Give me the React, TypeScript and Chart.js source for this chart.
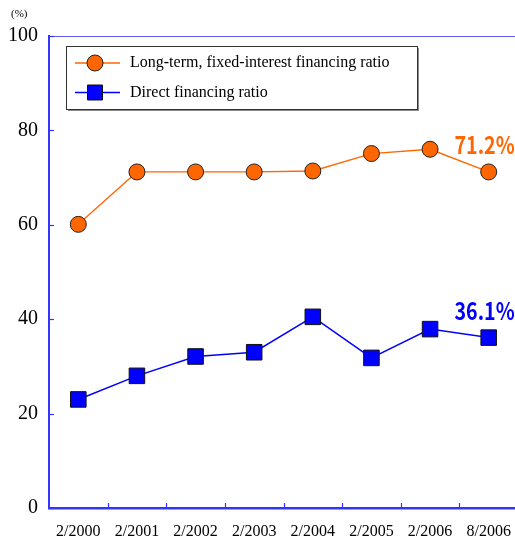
import React, { useEffect, useRef } from "react";
import { Chart, registerables } from "chart.js";

Chart.register(...registerables);

// Survey dates on the horizontal axis
const categories = ["2/2000", "2/2001", "2/2002", "2/2003", "2/2004", "2/2005", "2/2006", "8/2006"];
// Ratios in percent
const longTermFixedRatio = [60.1, 71.2, 71.2, 71.2, 71.4, 75.1, 76.0, 71.2];
const directFinancingRatio = [23.0, 28.0, 32.1, 33.0, 40.5, 31.8, 37.9, 36.1];
const yTickValues = [0, 20, 40, 60, 80, 100];
const seriesNames = ["Long-term, fixed-interest financing ratio", "Direct financing ratio"];
const unitLabel = "(%)";

const ORANGE = "#FF6600";
const BLUE = "#0000FF";
const AXIS_BLUE = "#3434FF";
const SERIF = "'Liberation Serif', 'Times New Roman', serif";
const GOTHIC = "'Noto Sans CJK JP', 'DejaVu Sans', sans-serif";

const decorations = {
  id: "decorations",
  afterDraw(chart: any) {
    const { ctx, chartArea, scales } = chart;
    const x = scales.x;
    const y = scales.y;
    ctx.save();

    // top frame line
    ctx.strokeStyle = "#5a5aff";
    ctx.lineWidth = 1;
    ctx.beginPath();
    ctx.moveTo(chartArea.left, chartArea.top + 0.5);
    ctx.lineTo(chartArea.right, chartArea.top + 0.5);
    ctx.stroke();

    // inner tick marks on the value axis
    ctx.strokeStyle = AXIS_BLUE;
    ctx.lineWidth = 1.2;
    yTickValues.forEach((v) => {
      const py = Math.round(y.getPixelForValue(v)) + 0.5;
      ctx.beginPath();
      ctx.moveTo(chartArea.left, py);
      ctx.lineTo(chartArea.left + 5, py);
      ctx.stroke();
    });

    // inner tick marks between categories
    for (let i = 1; i < categories.length; i++) {
      const px = Math.round((x.getPixelForValue(i - 1) + x.getPixelForValue(i)) / 2) + 0.5;
      ctx.beginPath();
      ctx.moveTo(px, chartArea.bottom);
      ctx.lineTo(px, chartArea.bottom - 5);
      ctx.stroke();
    }

    // unit label
    ctx.fillStyle = "#000";
    ctx.font = `11px ${SERIF}`;
    ctx.textAlign = "left";
    ctx.textBaseline = "middle";
    ctx.fillText(unitLabel, 11, 14);

    // legend box with drop shadow
    const lx = 66, ly = 46, lw = 351, lh = 63;
    ctx.fillStyle = "#8a8a8a";
    ctx.fillRect(lx + 2, ly + 2, lw, lh);
    ctx.fillStyle = "#fff";
    ctx.fillRect(lx, ly, lw, lh);
    ctx.strokeStyle = "#333";
    ctx.lineWidth = 1;
    ctx.strokeRect(lx + 0.5, ly + 0.5, lw, lh);

    chart.data.datasets.forEach((ds: any, i: number) => {
      const cy = ly + 17 + i * 29.5;
      const cx = 95;
      ctx.strokeStyle = ds.borderColor;
      ctx.lineWidth = 1.5;
      ctx.beginPath();
      ctx.moveTo(75, cy);
      ctx.lineTo(120, cy);
      ctx.stroke();
      ctx.fillStyle = ds.pointBackgroundColor;
      ctx.strokeStyle = ds.pointBorderColor;
      ctx.lineWidth = 1;
      ctx.beginPath();
      if (ds.pointStyle === "rect") {
        ctx.rect(cx - 7.5, cy - 7.5, 15, 15);
      } else {
        ctx.arc(cx, cy, 8, 0, Math.PI * 2);
      }
      ctx.fill();
      ctx.stroke();
      ctx.fillStyle = "#000";
      ctx.font = `16px ${SERIF}`;
      ctx.textAlign = "left";
      ctx.textBaseline = "middle";
      ctx.fillText(ds.label, 130, cy);
    });

    // value callouts on the latest point of each series
    chart.data.datasets.forEach((ds: any, i: number) => {
      const meta = chart.getDatasetMeta(i);
      const last = meta.data[meta.data.length - 1];
      const value = ds.data[ds.data.length - 1];
      ctx.save();
      ctx.translate(last.x + 26, last.y - 27);
      ctx.scale(0.82, 1);
      ctx.fillStyle = ds.borderColor === ORANGE ? ORANGE : BLUE;
      ctx.font = `bold 24px ${GOTHIC}`;
      ctx.textAlign = "right";
      ctx.textBaseline = "middle";
      ctx.fillText(`${value.toFixed(1)}%`, 0, 0);
      ctx.restore();
    });

    ctx.restore();
  },
};

export default function App() {
  const canvasRef = useRef<HTMLCanvasElement | null>(null);

  useEffect(() => {
    if (!canvasRef.current) return;
    const chart = new Chart(canvasRef.current, {
      type: "line",
      data: {
        labels: categories,
        datasets: [
          {
            label: seriesNames[0],
            data: longTermFixedRatio,
            borderColor: ORANGE,
            borderWidth: 1.3,
            pointStyle: "circle",
            pointRadius: 8,
            pointBackgroundColor: ORANGE,
            pointBorderColor: "#222",
            pointBorderWidth: 1,
            tension: 0,
          },
          {
            label: seriesNames[1],
            data: directFinancingRatio,
            borderColor: BLUE,
            borderWidth: 1.5,
            pointStyle: "rect",
            pointRadius: 11,
            pointBackgroundColor: BLUE,
            pointBorderColor: "#111",
            pointBorderWidth: 1,
            tension: 0,
          },
        ],
      },
      options: {
        responsive: false,
        animation: false,
        layout: { padding: { top: 36, left: 0, right: 0, bottom: 0 } },
        plugins: {
          legend: { display: false },
          tooltip: { enabled: false },
        },
        scales: {
          x: {
            offset: true,
            grid: { display: false, drawTicks: false },
            border: { display: true, color: AXIS_BLUE, width: 2.5 },
            ticks: {
              color: "#000",
              font: { family: SERIF, size: 16 },
              padding: 14,
              maxRotation: 0,
              autoSkip: false,
            },
            afterFit: (scale: any) => {
              scale.height = 37;
            },
          },
          y: {
            min: 0,
            max: 100,
            grid: { display: false, drawTicks: false },
            border: { display: true, color: AXIS_BLUE, width: 2 },
            ticks: {
              stepSize: 20,
              color: "#000",
              font: { family: SERIF, size: 20 },
              padding: 11,
            },
            afterFit: (scale: any) => {
              scale.width = 49;
            },
          },
        },
      },
      plugins: [decorations],
    });
    return () => chart.destroy();
  }, []);

  return (
    <div
      style={{
        position: "absolute",
        left: 0,
        top: 0,
        width: 515,
        height: 545,
        overflow: "hidden",
        background: "#fff",
      }}
    >
      <canvas ref={canvasRef} width={530} height={545} style={{ display: "block" }} />
    </div>
  );
}
